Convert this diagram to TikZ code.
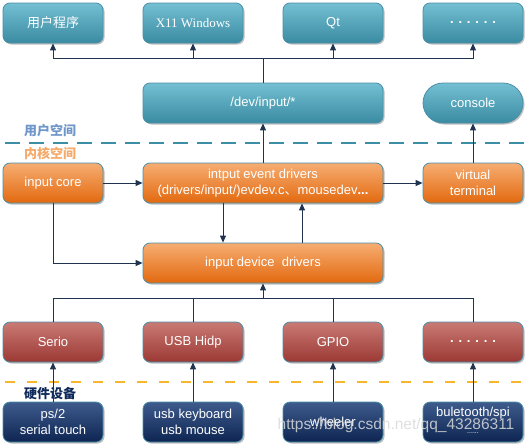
\documentclass[tikz,border=0pt]{standalone}
\usepackage{fontspec}
\setmainfont{Liberation Sans}
\newfontfamily\cjk{Noto Sans CJK SC}
\newfontfamily\serifx{Liberation Serif}
\usetikzlibrary{arrows.meta,shadows,calc}
\definecolor{tealT}{HTML}{74BFD2}
\definecolor{tealB}{HTML}{3A8BA2}
\definecolor{oraT}{HTML}{F6AD72}
\definecolor{oraB}{HTML}{E2690F}
\definecolor{redT}{HTML}{C97A74}
\definecolor{redB}{HTML}{9C3834}
\definecolor{navT}{HTML}{3D5B8C}
\definecolor{navB}{HTML}{0E2552}
\definecolor{bord}{HTML}{4A90A8}
\definecolor{arrc}{HTML}{1F3350}
\definecolor{usrc}{HTML}{6F96C8}
\definecolor{kerc}{HTML}{F5A96A}
\definecolor{hwc}{HTML}{0F2A5A}
\definecolor{dashT}{HTML}{3B8EA5}
\definecolor{dashO}{HTML}{F8B62A}
\tikzset{
  box/.style={draw=bord, line width=0.8pt, rounded corners=7pt, minimum width=100pt, minimum height=40pt,
    text=white, font=\fontsize{13}{16}\selectfont, align=center, inner sep=1pt,
    drop shadow={shadow xshift=1.5pt, shadow yshift=-1.5pt, opacity=0.25, fill=black}},
  wide/.style={minimum width=240pt},
  tealbox/.style={box, top color=tealT, bottom color=tealB},
  orabox/.style={box, top color=oraT, bottom color=oraB},
  redbox/.style={box, top color=redT, bottom color=redB},
  navbox/.style={box, top color=navT, bottom color=navB},
  ln/.style={draw=arrc, line width=1pt},
  arr/.style={ln, -{Triangle[length=7pt,width=6pt]}},
  zone/.style={font=\cjk\bfseries\fontsize{13}{13}\selectfont},
}
\begin{document}
\begin{tikzpicture}[x=1pt,y=-1pt]
\useasboundingbox (0,0) rectangle (526,445);
% top row
\node[tealbox] (app) at (53,23) {\cjk 用户程序};
\node[tealbox] (x11) at (193,23) {\serifx X11 Windows};
\node[tealbox] (qt) at (333,23) {Qt};
\node[tealbox] (more1) at (473,23) {\textbf{. . . . . .}};
\node[tealbox, wide] (dev) at (263,103) {/dev/input/*};
\node[tealbox, rounded corners=20pt] (con) at (473,103) {console};
% zones
\node[zone, text=usrc] (usr) at (50,131) {用户空间};
\draw[dashT, line width=1.8pt, dash pattern=on 15pt off 9pt] (5,143) -- (526,143);
\node[zone, text=kerc] (ker) at (50,153) {内核空间};
% kernel row
\node[orabox] (core) at (53,183) {input core};
\node[orabox, wide] (evt) at (263,183) {intput event drivers\\(drivers/input/)evdev.c{\cjk 、}mousedev\textbf{...}};
\node[orabox] (vt) at (473,183) {virtual\\terminal};
\node[orabox, wide] (drv) at (263,263) {input device\ \ drivers};
% bus drivers
\node[redbox] (serio) at (53,342) {Serio};
\node[redbox] (usb) at (193,342) {USB Hidp};
\node[redbox] (gpio) at (333,342) {GPIO};
\node[redbox] (more2) at (473,342) {\textbf{. . . . . .}};
\draw[dashO, line width=1.8pt, dash pattern=on 10pt off 12pt] (5,382) -- (526,382);
\node[zone, text=hwc] (hw) at (50,394) {硬件设备};
% devices
\node[navbox] (ps2) at (53,422) {ps/2\\serial touch};
\node[navbox] (kbd) at (193,422) {usb keyboard\\usb mouse};
\node[navbox] (whl) at (333,422) {wheeler};
\node[navbox] (bt) at (473,422) {};
\node[text=white, font=\fontsize{13}{16}\selectfont] (btt) at (473,413) {buletooth/spi};
\node[text=white, font=\fontsize{7}{7}\selectfont, inner sep=0pt] (btd) at (473,433) {......};
% top bus
\coordinate (tb) at (263,58);
\draw[ln] (dev.north) -- (tb);
\draw[arr] (tb) -| (app.south);
\draw[arr] (tb) -| (x11.south);
\draw[arr] (tb) -| (qt.south);
\draw[arr] (tb) -| (more1.south);
\draw[arr] (vt.north) -- (con.south);
\draw[arr] (evt.north) -- (dev.south);
\draw[arr] (core.east) -- (evt.west);
\draw[arr] (evt.east) -- (vt.west);
\draw[arr] ($(evt.south)+(-40,0)$) -- ($(drv.north)+(-40,0)$);
\draw[arr] ($(drv.north)+(39,0)$) -- ($(evt.south)+(39,0)$);
\draw[arr] (core.south) |- (drv.west);
% bottom bus
\coordinate (bb) at (263,298);
\draw[arr] (bb) -- (drv.south);
\draw[ln] (bb) -| (serio.north);
\draw[ln] (bb) -| (usb.north);
\draw[ln] (bb) -| (gpio.north);
\draw[ln] (bb) -| (more2.north);
\draw[arr] (ps2.north) -- (serio.south);
\draw[arr] (kbd.north) -- (usb.south);
\draw[arr] (whl.north) -- (gpio.south);
\draw[arr] (bt.north) -- (more2.south);
% watermark
\node[text=gray!30, opacity=0.85, font=\fontsize{15.5}{16}\selectfont] (wm) at (396,425) {https://blog.csdn.net/qq\_43286311};
\end{tikzpicture}
\end{document}
